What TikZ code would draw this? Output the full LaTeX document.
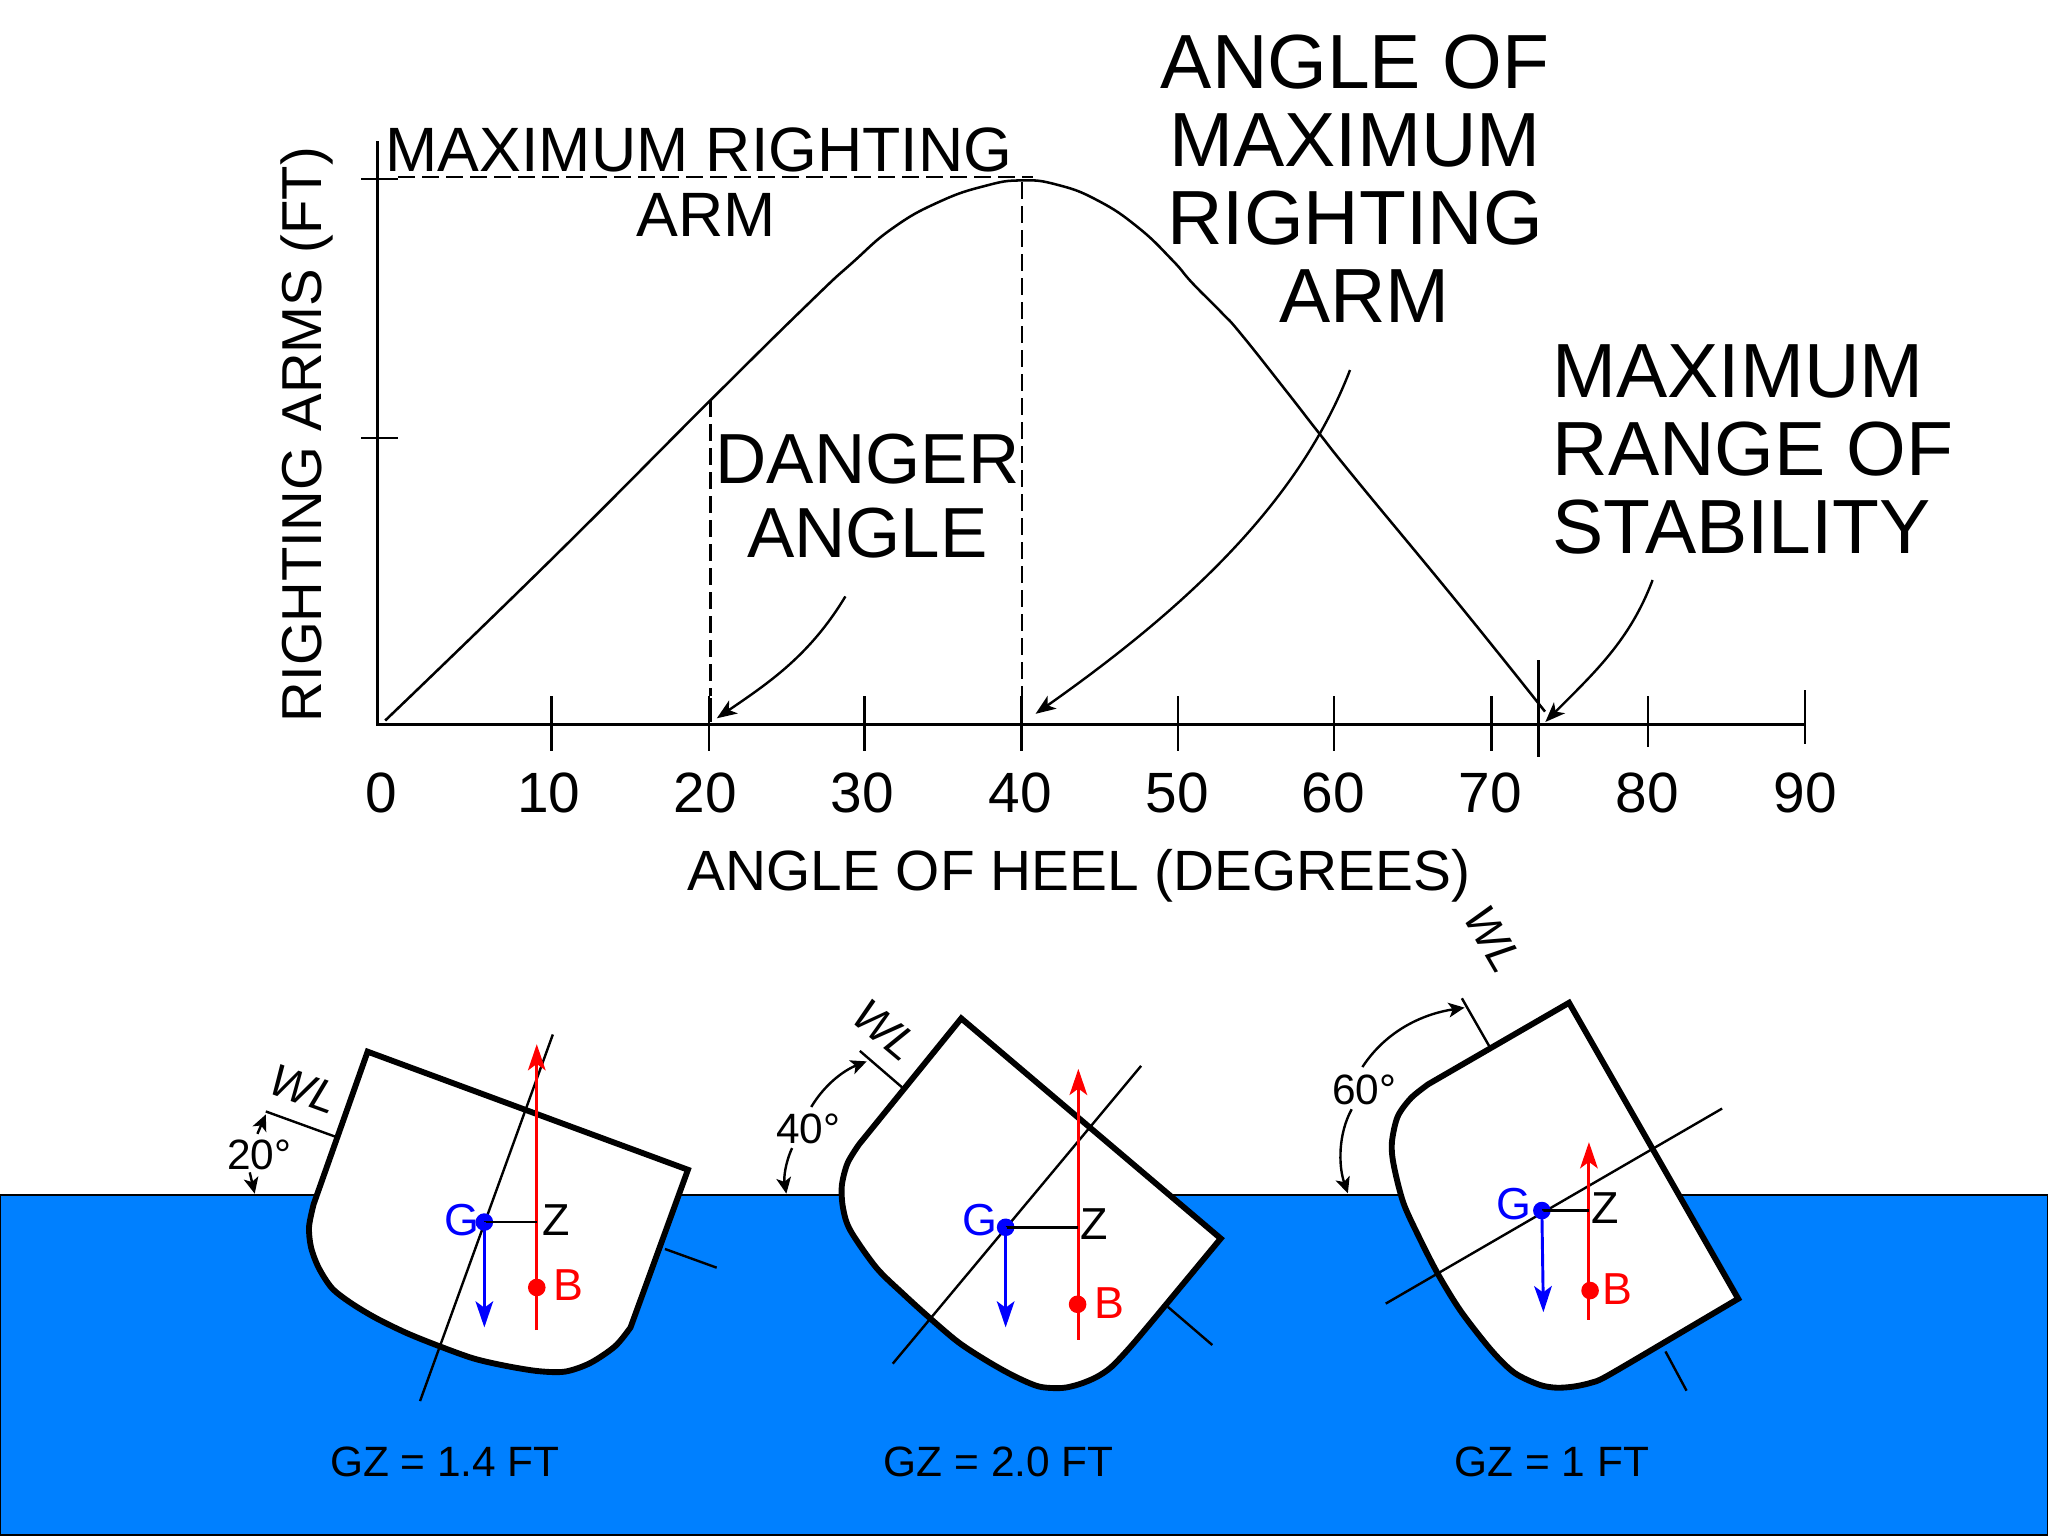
\documentclass[tikz,border=0pt]{standalone}
\usepackage{fontspec}
\setmainfont{Liberation Sans}
\usetikzlibrary{arrows.meta}
\definecolor{sea}{HTML}{0080FF}
\tikzset{
  txtS/.style={font=\fontsize{15.9}{18}\selectfont,inner sep=0pt},
  txtG/.style={font=\fontsize{16.8}{18}\selectfont,inner sep=0pt},
  txtL/.style={font=\fontsize{21.3}{24}\selectfont,inner sep=0pt},
  txtY/.style={font=\fontsize{21.1}{24}\selectfont,inner sep=0pt},
  txtM/.style={font=\fontsize{23.5}{24.3}\selectfont,inner sep=0pt,align=center},
  txtD/.style={font=\fontsize{26.6}{27.6}\selectfont,inner sep=0pt,align=center},
  txtH/.style={font=\fontsize{28.8}{29.2}\selectfont,inner sep=0pt,align=center},
  wl/.style={font=\fontsize{17}{18}\itshape\selectfont,inner sep=0pt},
  chart/.style={line width=0.9pt,black},
  curveline/.style={line width=0.95pt,black},
  dashline/.style={line width=0.95pt,black,dash pattern=on 6.2pt off 2.8pt},
  callout/.style={line width=0.9pt,black,-{Stealth[length=7.5pt,width=5.8pt,inset=2pt]}},
  angarrow/.style={line width=0.9pt,black,-{Stealth[length=6pt,width=5.5pt,inset=1.5pt]}},
  hull/.style={line width=2.2pt,black,fill=white,miter limit=10},
  thinline/.style={line width=0.9pt,black},
  redline/.style={line width=1.1pt,red,-{Stealth[length=9.8pt,width=6.6pt,inset=2.4pt]}},
  blueline/.style={line width=1.1pt,blue,-{Stealth[length=9.8pt,width=6.6pt,inset=2.4pt]}},
  reddot/.style={circle,fill=red,inner sep=0pt,minimum size=6.6pt},
  bluedot/.style={circle,fill=blue,inner sep=0pt,minimum size=6.6pt},
  zoomed/.style={x=0.14351pt,y=-0.14014pt}
}
\begin{document}
\begin{tikzpicture}[x=0.375pt,y=-0.375pt]
\useasboundingbox (0,0) rectangle (2048,1536);
\fill[white] (0,0) rectangle (2048,1536);
% water
\draw[line width=0.6pt,draw=black,fill=sea] (0.5,1195) rectangle (2047.5,1535);
% chart axes and ticks
\draw[chart] (377.6,141) -- (377.6,724.5) -- (1804.7,724.5);
\draw[chart] (361,179) -- (398,179);
\draw[chart] (361,438) -- (398,438);
\foreach \tx in {551.5,708.7,864.3,1021.6,1178,1334,1491.4}
  \draw[chart] (\tx,696) -- (\tx,751);
\draw[chart] (1648,696) -- (1648,747);
\draw[chart] (1804.7,690) -- (1804.7,744);
\draw[chart] (1538.4,660) -- (1538.4,757);
% dashed guides
\draw[dashline] (398,177) -- (1033,177);
\draw[dashline] (1022,182) -- (1022,724);
\draw[dashline] (710.7,400) -- (710.7,696);
\draw[line width=1.1pt,black] (710.7,698) -- (710.7,722);
% stability curve
\draw[curveline] plot[smooth,tension=0.8] coordinates {(385.2,720.5) (551,559.8) (710.7,400) (811.2,300.9) (852,263) (892.9,228) (938.8,202) (984.7,186) (1021.4,180.4) (1057.4,184.8) (1097.6,200.4) (1137.8,227.2) (1172.2,260) (1192.3,283) (1221,312) (1241,334) (1287,392) (1318.6,432.6) (1355.9,479.4) (1459,604.4) (1545,711.6)};
% callout arrows
\coordinate (dangerfrom) at (845.4,596.4);
\coordinate (dangerto) at (716.8,718.3);
\draw[callout] (dangerfrom) .. controls (810,655) and (770,682) .. (dangerto);
\coordinate (armfrom) at (1350,370);
\coordinate (armto) at (1035.6,713.8);
\draw[callout] (armfrom) .. controls (1300,500) and (1190,605) .. (armto);
\coordinate (rangefrom) at (1652.6,580);
\coordinate (rangeto) at (1545.3,722);
\draw[callout] (rangefrom) .. controls (1630,640) and (1595,672) .. (rangeto);
% chart texts
\node[txtM,anchor=base] (maxarm) at (699,236) {MAXIMUM RIGHTING\\\hspace*{5.25pt}ARM};
\node[txtH,anchor=base] (anglemax) at (1355,322) {ANGLE OF\\MAXIMUM\\RIGHTING\\\hspace*{7pt}ARM};
\node[txtH,anchor=base west,align=left] (range) at (1552,553) {MAXIMUM\\RANGE OF\\STABILITY};
\node[txtD,anchor=base] (danger) at (867.5,557) {DANGER\\ANGLE};
\node[txtY,anchor=base,rotate=90] (yaxis) at (321.4,434.5) {RIGHTING ARMS (FT)};
\node[txtL,anchor=base] (xaxis) at (1079,890.5) {ANGLE OF HEEL (DEGREES)};
\foreach \lx/\lb in {381/0,549/10,705/20,862/30,1020/40,1177/50,1333/60,1490/70,1647/80,1805/90}
  \node[txtL,anchor=base] (tick\lb) at (\lx,812.5) {\lb};
% hull at 20 degrees
\begin{scope}[shift={(200,950)},zoomed]
\draw[hull] (438,272) -- (1275,588) -- plot[smooth,tension=0.5] coordinates {(1125,1010) (1085,1060) (1020,1105) (955,1128) (885,1127) (800,1113) (715,1093) (625,1060) (540,1025) (460,985) (395,945) (345,905) (310,850) (290,795) (285,740) (297,680)} -- cycle;
\coordinate (cla) at (922,226); \coordinate (clb) at (575,1207);
\draw[thinline] (cla) -- (clb);
\draw[thinline] (172,432) -- (355,500);
\draw[thinline] (1215,800) -- (1350,850);
\coordinate (gaz) at (880,728); \coordinate (gatip) at (743,1010);
\coordinate (rat) at (880,252); \coordinate (rab) at (880,1017);
\draw[redline] (rab) -- (rat);
\node[bluedot] (ga) at (743,728) {};
\node[reddot] (ba) at (880,903) {};
\draw[thinline] (ga.center) -- (gaz);
\draw[blueline] (ga.center) -- (gatip);
\node[txtG,blue] (galab) at (685,722) {G};
\node[txtG,black] (zalab) at (932,722) {Z};
\node[txtG,red] (balab) at (962,897) {B};
\node[wl,rotate=-20] (wla) at (272,372) {WL};
\node[txtS] (dega) at (155,548) {20°};
\draw[angarrow] (150,492) -- (172,440);
\draw[angarrow] (130,595) -- (143,652);
\node[txtS,anchor=base] (gza) at (640,1410) {GZ = 1.4 FT};
\end{scope}
% hull at 40 degrees
\begin{scope}[shift={(750,950)},zoomed]
\draw[hull] (552,183) -- (1230,772) -- plot[smooth,tension=0.5] coordinates {(1090,945) (1000,1055) (945,1115) (905,1143) (860,1162) (815,1172) (755,1168) (690,1140) (620,1100) (545,1050) (470,985) (400,920) (330,850) (262,750) (243,690) (240,630) (255,570) (285,520)} -- cycle;
\coordinate (clc) at (1022,310); \coordinate (cld) at (373,1107);
\draw[thinline] (clc) -- (cld);
\draw[thinline] (287,270) -- (398,368);
\draw[thinline] (1092,955) -- (1208,1057);
\coordinate (gbz) at (858,742); \coordinate (gbtip) at (668,1010);
\coordinate (rbt) at (858,318); \coordinate (rbb) at (858,1043);
\draw[redline] (rbb) -- (rbt);
\node[bluedot] (gb) at (668,742) {};
\node[reddot] (bb) at (856,948) {};
\draw[thinline] (gb.center) -- (gbz);
\draw[blueline] (gb.center) -- (gbtip);
\node[txtG,blue] (gblab) at (600,722) {G};
\node[txtG,black] (zblab) at (900,733) {Z};
\node[txtG,red] (bblab) at (938,945) {B};
\node[wl,rotate=-40] (wlb) at (354,215) {WL};
\node[txtS] (degb) at (152,478) {40°};
\draw[angarrow] (160,420) .. controls (195,360) and (245,322) .. (305,298);
\draw[angarrow] (110,530) .. controls (92,570) and (88,610) .. (95,652);
\node[txtS,anchor=base] (gzb) at (650,1410) {GZ = 2.0 FT};
\end{scope}
% hull at 60 degrees
\begin{scope}[shift={(1300,900)},zoomed]
\draw[hull] (703,275) -- (1145,1067) -- plot[smooth,tension=0.5] coordinates {(950,1185) (800,1275) (760,1292) (715,1302) (670,1305) (625,1297) (560,1265) (500,1205) (420,1100) (360,1000) (310,900) (270,810) (245,710) (240,650) (255,580) (290,530) (335,493)} -- cycle;
\coordinate (cle) at (1103,558); \coordinate (clf) at (224,1080);
\draw[thinline] (cle) -- (clf);
\draw[thinline] (423,263) -- (495,392);
\draw[thinline] (955,1208) -- (1010,1313);
\coordinate (gcz) at (755,831); \coordinate (gctip) at (636,1103);
\coordinate (rct) at (755,648); \coordinate (rcb) at (755,1123);
\draw[redline] (rcb) -- (rct);
\node[bluedot] (gc) at (632,831) {};
\node[reddot] (bc) at (758,1045) {};
\draw[thinline] (gc.center) -- (gcz);
\draw[blueline] (gc.center) -- (gctip);
\node[txtG,blue] (gclab) at (558,813) {G};
\node[txtG,black] (zclab) at (798,825) {Z};
\node[txtG,red] (bclab) at (830,1040) {B};
\node[wl,rotate=-60] (wlc) at (505,105) {WL};
\node[txtS] (degc) at (168,507) {60°};
\draw[angarrow] (163,447) .. controls (225,350) and (320,305) .. (430,288);
\draw[angarrow] (135,560) .. controls (100,625) and (100,710) .. (125,785);
\node[txtS,anchor=base] (gzc) at (658,1543) {GZ = 1 FT};
\end{scope}
\end{tikzpicture}
\end{document}
